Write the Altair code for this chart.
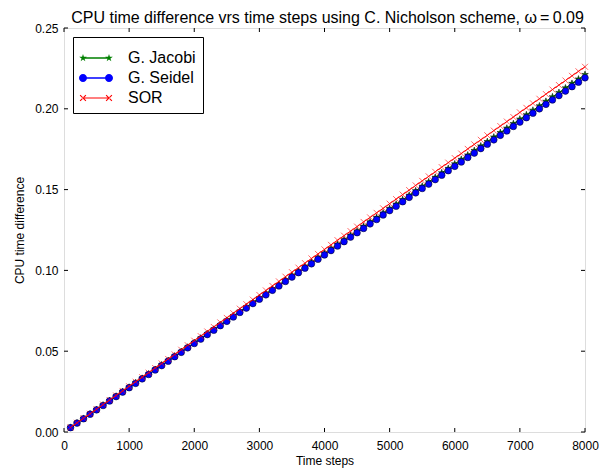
import math
import altair as alt
import pandas as pd

# ---------------- data ----------------
steps = list(range(100, 8001, 100))

jacobi = [0.0028, 0.0055, 0.0083, 0.0111, 0.0138, 0.0166, 0.0194, 0.0221, 0.0249, 0.0277,
          0.0304, 0.0332, 0.0359, 0.0387, 0.0415, 0.0442, 0.0470, 0.0498, 0.0525, 0.0553,
          0.0581, 0.0608, 0.0636, 0.0664, 0.0691, 0.0719, 0.0747, 0.0774, 0.0802, 0.0830,
          0.0857, 0.0885, 0.0912, 0.0940, 0.0968, 0.0995, 0.1023, 0.1051, 0.1078, 0.1106,
          0.1134, 0.1161, 0.1189, 0.1217, 0.1244, 0.1272, 0.1300, 0.1327, 0.1355, 0.1383,
          0.1410, 0.1438, 0.1465, 0.1493, 0.1521, 0.1548, 0.1576, 0.1604, 0.1631, 0.1659,
          0.1687, 0.1714, 0.1742, 0.1770, 0.1797, 0.1825, 0.1853, 0.1880, 0.1908, 0.1936,
          0.1963, 0.1991, 0.2018, 0.2046, 0.2074, 0.2101, 0.2129, 0.2157, 0.2184, 0.2212]

seidel = [0.0027, 0.0055, 0.0082, 0.0110, 0.0137, 0.0164, 0.0192, 0.0219, 0.0247, 0.0274,
          0.0301, 0.0329, 0.0356, 0.0384, 0.0411, 0.0438, 0.0466, 0.0493, 0.0521, 0.0548,
          0.0575, 0.0603, 0.0630, 0.0658, 0.0685, 0.0712, 0.0740, 0.0767, 0.0795, 0.0822,
          0.0849, 0.0877, 0.0904, 0.0932, 0.0959, 0.0986, 0.1014, 0.1041, 0.1069, 0.1096,
          0.1123, 0.1151, 0.1178, 0.1206, 0.1233, 0.1260, 0.1288, 0.1315, 0.1343, 0.1370,
          0.1397, 0.1425, 0.1452, 0.1480, 0.1507, 0.1534, 0.1562, 0.1589, 0.1617, 0.1644,
          0.1671, 0.1699, 0.1726, 0.1754, 0.1781, 0.1808, 0.1836, 0.1863, 0.1891, 0.1918,
          0.1945, 0.1973, 0.2000, 0.2028, 0.2055, 0.2082, 0.2110, 0.2137, 0.2165, 0.2192]

sor = [0.0028, 0.0057, 0.0085, 0.0113, 0.0141, 0.0170, 0.0198, 0.0226, 0.0254, 0.0283,
       0.0311, 0.0339, 0.0367, 0.0396, 0.0424, 0.0452, 0.0480, 0.0509, 0.0537, 0.0565,
       0.0593, 0.0622, 0.0650, 0.0678, 0.0706, 0.0735, 0.0763, 0.0791, 0.0819, 0.0848,
       0.0876, 0.0904, 0.0932, 0.0961, 0.0989, 0.1017, 0.1045, 0.1074, 0.1102, 0.1130,
       0.1158, 0.1187, 0.1215, 0.1243, 0.1271, 0.1300, 0.1328, 0.1356, 0.1384, 0.1413,
       0.1441, 0.1469, 0.1497, 0.1526, 0.1554, 0.1582, 0.1610, 0.1639, 0.1667, 0.1695,
       0.1723, 0.1752, 0.1780, 0.1808, 0.1836, 0.1865, 0.1893, 0.1921, 0.1949, 0.1978,
       0.2006, 0.2034, 0.2062, 0.2091, 0.2119, 0.2147, 0.2175, 0.2204, 0.2232, 0.2260]

series_names = ["G. Jacobi", "G. Seidel", "SOR"]
series_colors = ["#008000", "#0000ff", "#ff0000"]
x_ticks = [0, 1000, 2000, 3000, 4000, 5000, 6000, 7000, 8000]
y_ticks = [0.0, 0.05, 0.10, 0.15, 0.20, 0.25]
title_text = "CPU time difference vrs time steps using C. Nicholson scheme, \u03c9\u2009=\u20090.09"

# ---------------- layout / style ----------------
W, H = 521, 404
FONT = "Liberation Sans"
TICK = 4
LEG_SIZE = 324            # legend symbol size -> 18 px nominal box
U = math.sqrt(LEG_SIZE) / 2  # px per normalised path unit (9 px)


def px(v):
    return v / U


def star(cx=0.0, r=1.0):
    pts = []
    for i in range(10):
        ang = -math.pi / 2 + i * math.pi / 5
        rr = r if i % 2 == 0 else r * 0.382
        pts.append((cx + rr * math.cos(ang), rr * math.sin(ang)))
    return "M" + "L".join(f"{x:.3f},{y:.3f}" for x, y in pts) + "Z"


def circle(cx, r):
    return (f"M{cx + r:.3f},0A{r:.3f},{r:.3f} 0 1,1 {cx - r:.3f},0"
            f"A{r:.3f},{r:.3f} 0 1,1 {cx + r:.3f},0Z")


def xmark(cx, r, t):
    return (f"M{cx - r:.3f},{-r + t:.3f}L{cx - r + t:.3f},{-r:.3f}L{cx + r:.3f},{r - t:.3f}L{cx + r - t:.3f},{r:.3f}Z"
            f"M{cx - r:.3f},{r - t:.3f}L{cx - r + t:.3f},{r:.3f}L{cx + r:.3f},{-r + t:.3f}L{cx + r - t:.3f},{-r:.3f}Z")


def seg(a, b, t):
    return f"M{a:.3f},{-t:.3f}L{b:.3f},{-t:.3f}L{b:.3f},{t:.3f}L{a:.3f},{t:.3f}Z"


# legend glyph: line from -6 px to +20 px around the nominal symbol centre
L, R = px(-6), px(20)
legend_paths = [
    seg(L, R, px(0.7)) + star(L, px(4.0)) + star(R, px(4.0)),
    seg(L + px(3), R - px(3), px(0.7)) + circle(L, px(4.0)) + circle(R, px(4.0)),
    seg(L, R, px(0.6)) + xmark(L, px(3.3), px(0.8)) + xmark(R, px(3.3), px(0.8)),
]

df = pd.DataFrame({
    "step": steps * 3,
    "value": jacobi + seidel + sor,
    "series": [series_names[0]] * len(steps) + [series_names[1]] * len(steps) + [series_names[2]] * len(steps),
})

x_scale = alt.Scale(domain=[0, 8000], nice=False, zero=False)
y_scale = alt.Scale(domain=[0, 0.25], nice=False)

x_enc = alt.X("step:Q", scale=x_scale,
              axis=alt.Axis(values=x_ticks, format="d", title="Time steps", ticks=False,
                            domain=False, grid=False, labelPadding=8, titlePadding=4,
                            labelFlush=False, labelOverlap=False,
                            labelFontSize=12, titleFontSize=12, labelFont=FONT, titleFont=FONT,
                            labelColor="black", titleColor="black", titleFontWeight="normal"))
y_enc = alt.Y("value:Q", scale=y_scale,
              axis=alt.Axis(values=y_ticks, format=".2f", title="CPU time difference", ticks=False,
                            domain=False, grid=False, labelPadding=6, titlePadding=8,
                            labelFlush=False, labelOverlap=False,
                            labelFontSize=12, titleFontSize=12, labelFont=FONT, titleFont=FONT,
                            labelColor="black", titleColor="black", titleFontWeight="normal"))

base = alt.Chart(df)


def series_layers(name, color, point_kwargs):
    b = base.transform_filter(alt.datum.series == name)
    line = b.mark_line(color=color, strokeWidth=1).encode(x=x_enc, y=y_enc)
    pts = b.mark_point(opacity=1, **point_kwargs).encode(x=x_enc, y=y_enc)
    return [line, pts]


layers = []
layers += series_layers("G. Jacobi", "#008000",
                        dict(shape=star(), size=49, filled=True, fill="#008000",
                             stroke="black", strokeWidth=0.5))
layers += series_layers("G. Seidel", "#0000ff",
                        dict(shape="circle", size=45, filled=True, fill="#0000ff",
                             stroke="black", strokeWidth=0.5))
layers += series_layers("SOR", "#ff0000",
                        dict(shape="M-1,-1L1,1M-1,1L1,-1", size=36, filled=False,
                             stroke="#ff0000", strokeWidth=0.6))

# legend (entries only, no marks); a blank 1px title adds a little room at the top
leg = alt.Legend(title=" ", titleFontSize=1, titlePadding=4, orient="top-left", offset=9, padding=7,
                 strokeColor="black", fillColor="white", cornerRadius=0,
                 labelFont=FONT, labelFontSize=16, labelColor="black", labelLimit=0,
                 symbolSize=LEG_SIZE, labelOffset=30, rowPadding=3,
                 symbolStrokeWidth=0, symbolOpacity=1)
legend_layer = base.transform_filter("false").mark_point(filled=True, opacity=1).encode(
    x=x_enc, y=y_enc,
    color=alt.Color("series:N", scale=alt.Scale(domain=series_names, range=series_colors), legend=leg),
    shape=alt.Shape("series:N", scale=alt.Scale(domain=series_names, range=legend_paths), legend=leg),
)
layers.append(legend_layer)

# inward ticks on all four sides
xt = alt.Chart(pd.DataFrame({"step": x_ticks}))
yt = alt.Chart(pd.DataFrame({"value": y_ticks}))
layers.append(xt.mark_rule(color="black", strokeWidth=1).encode(x=x_enc, y=alt.value(H - TICK), y2=alt.value(H)))
layers.append(xt.mark_rule(color="black", strokeWidth=1).encode(x=x_enc, y=alt.value(0), y2=alt.value(TICK)))
layers.append(yt.mark_rule(color="black", strokeWidth=1).encode(y=y_enc, x=alt.value(0), x2=alt.value(TICK)))
layers.append(yt.mark_rule(color="black", strokeWidth=1).encode(y=y_enc, x=alt.value(W - TICK), x2=alt.value(W)))

# chart title as a text mark centred above the plot
title_layer = alt.Chart(pd.DataFrame({"t": [title_text]})).mark_text(
    font=FONT, fontSize=16, color="black", align="center", baseline="alphabetic"
).encode(x=alt.value(W / 2 + 3), y=alt.value(-5.5), text="t:N")
layers.append(title_layer)

chart = alt.layer(*layers).properties(
    width=W, height=H,
    autosize=alt.AutoSizeParams(type="none"),
    padding={"left": 56, "top": 20, "right": 14, "bottom": 36},
).configure_view(stroke="black", strokeWidth=1).configure(background="white")

chart.save("out.html", embed_options={"renderer": "svg", "actions": False})
